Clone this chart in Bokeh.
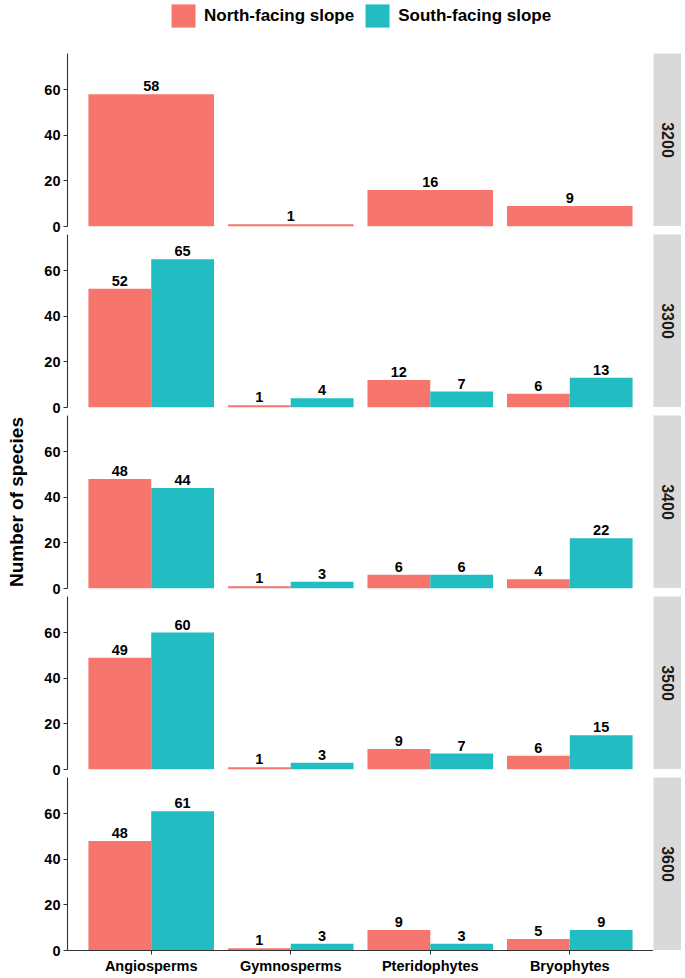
import math
from bokeh.plotting import figure
from bokeh.models import (FactorRange, Range1d, ColumnDataSource, Legend, LegendItem,
                          Label, FixedTicker)
from bokeh.layouts import column, row
from bokeh.transform import dodge
from bokeh.embed import file_html
from bokeh.resources import INLINE
from bokeh.core.properties import value

# ---------------- data ----------------
categories = ["Angiosperms", "Gymnosperms", "Pteridophytes", "Bryophytes"]
elevations = ["3200", "3300", "3400", "3500", "3600"]
series_names = ["North-facing slope", "South-facing slope"]

north_3200 = [58, 1, 16, 9]
north_3300 = [52, 1, 12, 6]
north_3400 = [48, 1, 6, 4]
north_3500 = [49, 1, 9, 6]
north_3600 = [48, 1, 9, 5]

south_3200 = None  # no south-facing data at 3200 m
south_3300 = [65, 4, 7, 13]
south_3400 = [44, 3, 6, 22]
south_3500 = [60, 3, 7, 15]
south_3600 = [61, 3, 3, 9]

y_ticks = [0, 20, 40, 60]

north_by_elev = [north_3200, north_3300, north_3400, north_3500, north_3600]
south_by_elev = [south_3200, south_3300, south_3400, south_3500, south_3600]

# ---------------- style ----------------
NORTH_COLOR = "#F6766D"
SOUTH_COLOR = "#22BDC3"
FONT = "Liberation Sans"
AXIS_COLOR = "#333333"
STRIP_FILL = "#D9D9D9"

FRAME_W = 586
FRAME_H = 173
LEFT = 67
STRIP_W = 28
GAP = 8
TOP = 53
Y_MAX = 75.8


def style_text_axis(ax, size="14.5px"):
    ax.major_label_text_font = FONT
    ax.major_label_text_font_style = "bold"
    ax.major_label_text_font_size = size
    ax.major_label_text_color = "black"
    ax.axis_line_color = AXIS_COLOR
    ax.axis_line_width = 1.1
    ax.major_tick_line_color = AXIS_COLOR
    ax.major_tick_out = 4
    ax.major_tick_in = 0
    ax.minor_tick_line_color = None
    ax.major_label_standoff = 3


def make_panel(i):
    last = i == len(elevations) - 1
    p = figure(
        x_range=FactorRange(factors=categories, range_padding=0.1,
                            range_padding_units="absolute"),
        y_range=Range1d(0, Y_MAX),
        frame_width=FRAME_W, frame_height=FRAME_H,
        min_border_left=LEFT, min_border_right=0, min_border_top=0,
        min_border_bottom=0 if last else GAP,
        output_backend="svg", toolbar_location=None,
    )
    p.grid.visible = False
    p.outline_line_color = None
    p.background_fill_color = "white"

    style_text_axis(p.yaxis[0])
    p.yaxis.ticker = FixedTicker(ticks=y_ticks)
    if i == 2:
        p.yaxis.axis_label = "Number of species"
        p.yaxis.axis_label_text_font = FONT
        p.yaxis.axis_label_text_font_style = "bold"
        p.yaxis.axis_label_text_font_size = "19px"
        p.yaxis.axis_label_text_color = "black"
        p.yaxis.axis_label_standoff = 14

    if last:
        style_text_axis(p.xaxis[0])
    else:
        p.xaxis.visible = False

    north = north_by_elev[i]
    south = south_by_elev[i]
    text_kw = dict(text_font=value(FONT), text_font_style="bold",
                   text_font_size="14.5px", text_align="center",
                   text_baseline="bottom", y_offset=-3, text_color="black")

    if south is None:
        src = ColumnDataSource(dict(cat=categories, val=north,
                                    lab=[str(v) for v in north]))
        p.vbar(x="cat", top="val", width=0.9, source=src,
               fill_color=NORTH_COLOR, line_color=None)
        p.text(x="cat", y="val", text="lab", source=src, **text_kw)
    else:
        for vals, col, off in ((north, NORTH_COLOR, -0.225),
                               (south, SOUTH_COLOR, 0.225)):
            src = ColumnDataSource(dict(cat=categories, val=vals,
                                        lab=[str(v) for v in vals]))
            p.vbar(x=dodge("cat", off, range=p.x_range), top="val", width=0.45,
                   source=src, fill_color=col, line_color=None)
            p.text(x=dodge("cat", off, range=p.x_range), y="val", text="lab",
                   source=src, **text_kw)
    return p


def make_strip(label):
    s = figure(frame_width=STRIP_W, frame_height=FRAME_H,
               x_range=Range1d(0, 1), y_range=Range1d(0, 1),
               x_axis_location=None, y_axis_location=None,
               min_border=0, output_backend="svg", toolbar_location=None)
    s.grid.visible = False
    s.outline_line_color = None
    s.background_fill_color = STRIP_FILL
    s.add_layout(Label(x=0.5, y=0.5, text=label, angle=-math.pi / 2,
                       text_align="center", text_baseline="middle",
                       text_font=FONT, text_font_style="bold",
                       text_font_size="16px", text_color="#1a1a1a"))
    return s


# ---------------- legend (keys drawn from hidden copies of the 3300 bars) ----------------
lf = figure(frame_width=LEFT + FRAME_W + STRIP_W, frame_height=TOP,
            x_range=FactorRange(factors=categories), y_range=Range1d(0, Y_MAX),
            x_axis_location=None, y_axis_location=None,
            min_border=0, output_backend="svg", toolbar_location=None)
lf.grid.visible = False
lf.outline_line_color = None
leg_src_n = ColumnDataSource(dict(cat=categories, val=north_3300))
leg_src_s = ColumnDataSource(dict(cat=categories, val=south_3300))
r_n = lf.vbar(x="cat", top="val", width=0.45, source=leg_src_n,
              fill_color=NORTH_COLOR, line_color=None, visible=False)
r_s = lf.vbar(x="cat", top="val", width=0.45, source=leg_src_s,
              fill_color=SOUTH_COLOR, line_color=None, visible=False)
legend = Legend(
    items=[LegendItem(label=series_names[0], renderers=[r_n]),
           LegendItem(label=series_names[1], renderers=[r_s])],
    location=(168, 23), orientation="horizontal",
    glyph_width=30, glyph_height=29, label_standoff=6, spacing=8,
    padding=0, margin=0, border_line_color=None, background_fill_alpha=0,
    label_text_font=FONT, label_text_font_style="bold",
    label_text_font_size="17px", label_text_color="black",
    click_policy="none",
)
lf.add_layout(legend)

rows = [lf]
for i, elev in enumerate(elevations):
    rows.append(row(make_panel(i), make_strip(elev), spacing=0))

layout = column(*rows, spacing=0)

open("out.html", "w").write(file_html(layout, INLINE))
